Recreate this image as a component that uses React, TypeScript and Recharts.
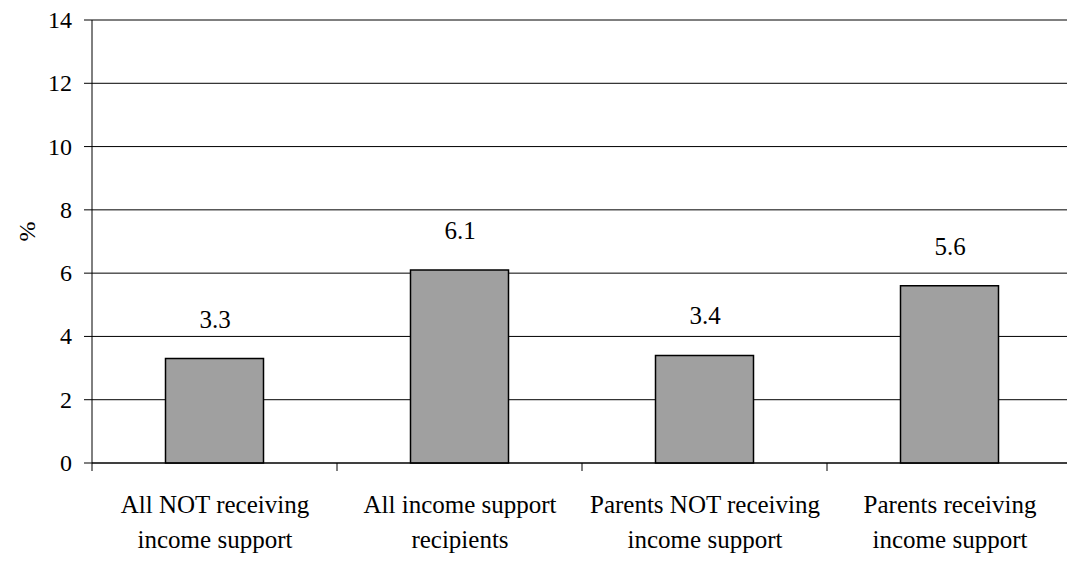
import React from 'react';
import { BarChart, Bar, XAxis, YAxis, CartesianGrid, LabelList } from 'recharts';

const categories = [
  ['All NOT receiving', 'income support'],
  ['All income support', 'recipients'],
  ['Parents NOT receiving', 'income support'],
  ['Parents receiving', 'income support'],
];
const values = [3.3, 6.1, 3.4, 5.6];
const yTicks = [0, 2, 4, 6, 8, 10, 12, 14];

const data = categories.map((c, i) => ({ name: c.join('\n'), value: values[i] }));

const FONT = "'Liberation Serif', 'Times New Roman', serif";
const textStyle = { fontFamily: FONT };
const r = (v: number) => Math.round(v);

const YTick = (props: any) => {
  const { x, y, payload } = props;
  return (
    <text
      x={r(x)}
      y={r(y + 8)}
      textAnchor="end"
      fontSize={24}
      fontFamily="Liberation Serif"
      style={textStyle}
      fill="#000"
    >
      {payload.value}
    </text>
  );
};

const XTick = (props: any) => {
  const { x, y, payload, index, visibleTicksCount } = props;
  const half = payload.offset || 0;
  const lines = String(payload.value).split('\n');
  return (
    <g>
      <line x1={x - half} x2={x - half} y1={y} y2={y + 8} stroke="#000" strokeWidth={1} />
      {index === (visibleTicksCount ?? 4) - 1 && (
        <line x1={x + half} x2={x + half} y1={y} y2={y + 8} stroke="#000" strokeWidth={1} />
      )}
      {lines.map((l, i) => (
        <text
          key={i}
          x={r(x)}
          y={r(y + 50 + i * 35)}
          textAnchor="middle"
          fontSize={25}
          fontFamily="Liberation Serif"
          style={textStyle}
          fill="#000"
        >
          {l}
        </text>
      ))}
    </g>
  );
};

const ValueLabel = (props: any) => {
  const { x, y, width, value } = props;
  return (
    <text
      x={r(x + width / 2)}
      y={r(y - 31)}
      textAnchor="middle"
      fontSize={25}
      fontFamily="Liberation Serif"
      style={textStyle}
      fill="#000"
    >
      {Number(value).toFixed(1)}
    </text>
  );
};

export default function App() {
  return (
    <div style={{ position: 'absolute', left: 0, top: 0, width: 1067, height: 561, overflow: 'hidden', background: '#fff', fontFamily: FONT }}>
      <BarChart
        width={1075}
        height={561}
        data={data}
        margin={{ top: 20, right: 3, bottom: 0, left: 0 }}
        barCategoryGap="30%"
        style={{ fontFamily: FONT }}
      >
        <CartesianGrid vertical={false} stroke="#000" strokeWidth={1} />
        <XAxis
          dataKey="name"
          height={98}
          axisLine={{ stroke: '#000', strokeWidth: 1 }}
          tickLine={false}
          tickSize={0}
          tickMargin={0}
          interval={0}
          tick={<XTick />}
        />
        <YAxis
          width={92}
          domain={[0, 14]}
          ticks={yTicks}
          interval={0}
          axisLine={{ stroke: '#000', strokeWidth: 1 }}
          tickLine={{ stroke: '#000', strokeWidth: 1 }}
          tickSize={8}
          tickMargin={12}
          tick={<YTick />}
          label={{ value: '%', angle: -90, position: 'insideLeft', offset: 26, fontSize: 24, fontFamily: 'Liberation Serif', style: textStyle, fill: '#000' }}
        />
        <Bar dataKey="value" fill="#A0A0A0" stroke="#000" strokeWidth={1.5} isAnimationActive={false}>
          <LabelList dataKey="value" content={<ValueLabel />} />
        </Bar>
      </BarChart>
    </div>
  );
}
